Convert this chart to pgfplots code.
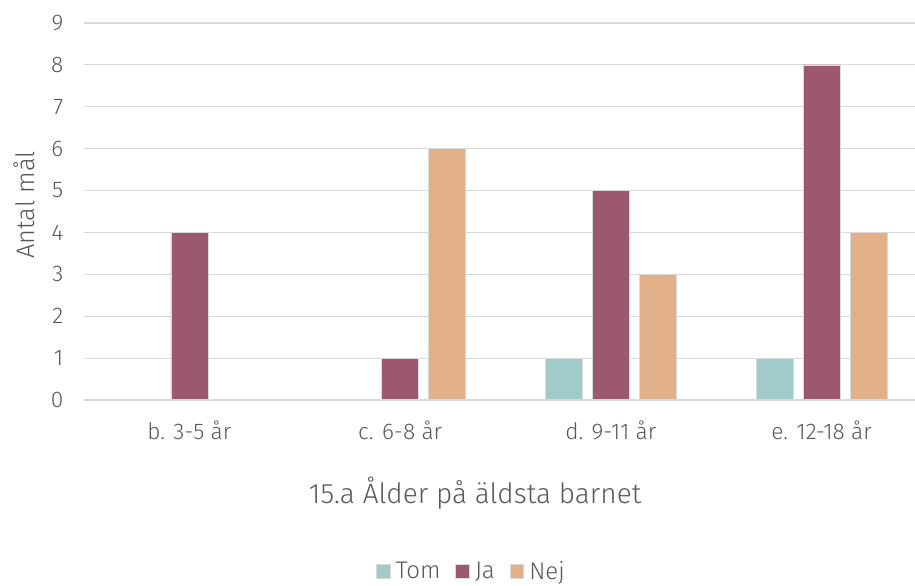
\documentclass[border=0pt]{standalone}
\usepackage{pgfplots}
\pgfplotsset{compat=1.18}
\usepackage{fontspec}
\setmainfont{Fira Sans}[UprightFont=* Light]
\definecolor{txt}{HTML}{595959}
\definecolor{gridc}{HTML}{D9D9D9}
\definecolor{tom}{HTML}{A0CBC9}
\definecolor{ja}{HTML}{9B5870}
\definecolor{nej}{HTML}{E2B088}
\begin{document}
\begin{tikzpicture}
\begin{axis}[
  scale only axis,
  width=632.25pt, height=282.75pt,
  xmin=-0.5, xmax=3.5, ymin=0, ymax=9,
  ytick={0,...,9},
  xtick={0,1,2,3},
  xticklabels={b. 3-5 år, c. 6-8 år, d. 9-11 år, e. 12-18 år},
  xmajorgrids=false, ymajorgrids=true,
  major grid style={draw=gridc, line width=0.9pt},
  axis line style={draw=none},
  major tick length=0pt,
  tick style={draw=none},
  tick label style={font=\fontsize{17}{20}\selectfont, text=txt},
  /pgf/number format/assume math mode=true,
  yticklabel style={xshift=-12pt},
  xticklabel style={yshift=-12pt},
  ybar, bar width=0.176,
  clip=false,
  legend style={draw=none, at={(0.46,-0.455)}, anchor=center, legend columns=-1,
    font=\fontsize{18}{21}\selectfont, text=txt,
    /tikz/every odd column/.append style={column sep=2pt},
    /tikz/every even column/.append style={column sep=9pt}},
  legend image code/.code={\fill[#1] (0pt,-5.2pt) rectangle (10.4pt,5.2pt);},
]
\addplot[fill=tom, draw=gridc, line width=0.4pt, bar shift=-0.223] coordinates {(2,1) (3,1)};
\addplot[fill=ja, draw=gridc, line width=0.4pt, bar shift=0] coordinates {(0,4) (1,1) (2,5) (3,8)};
\addplot[fill=nej, draw=gridc, line width=0.4pt, bar shift=0.223] coordinates {(1,6) (2,3) (3,4)};
\legend{Tom, Ja, Nej}
\draw[gridc, line width=0.9pt] (rel axis cs:0,0) -- (rel axis cs:1,0);
\node[text=txt, font=\fontsize{21}{25}\selectfont] at (rel axis cs:0.464,-0.247) {15.a Ålder på äldsta barnet};
\node[text=txt, font=\fontsize{19}{22}\selectfont, rotate=90] at (rel axis cs:-0.0712,0.517) {Antal mål};
\end{axis}
\pgfresetboundingbox
\path (-63pt,-139.5pt) rectangle (623.25pt,300pt);
\end{tikzpicture}
\end{document}
